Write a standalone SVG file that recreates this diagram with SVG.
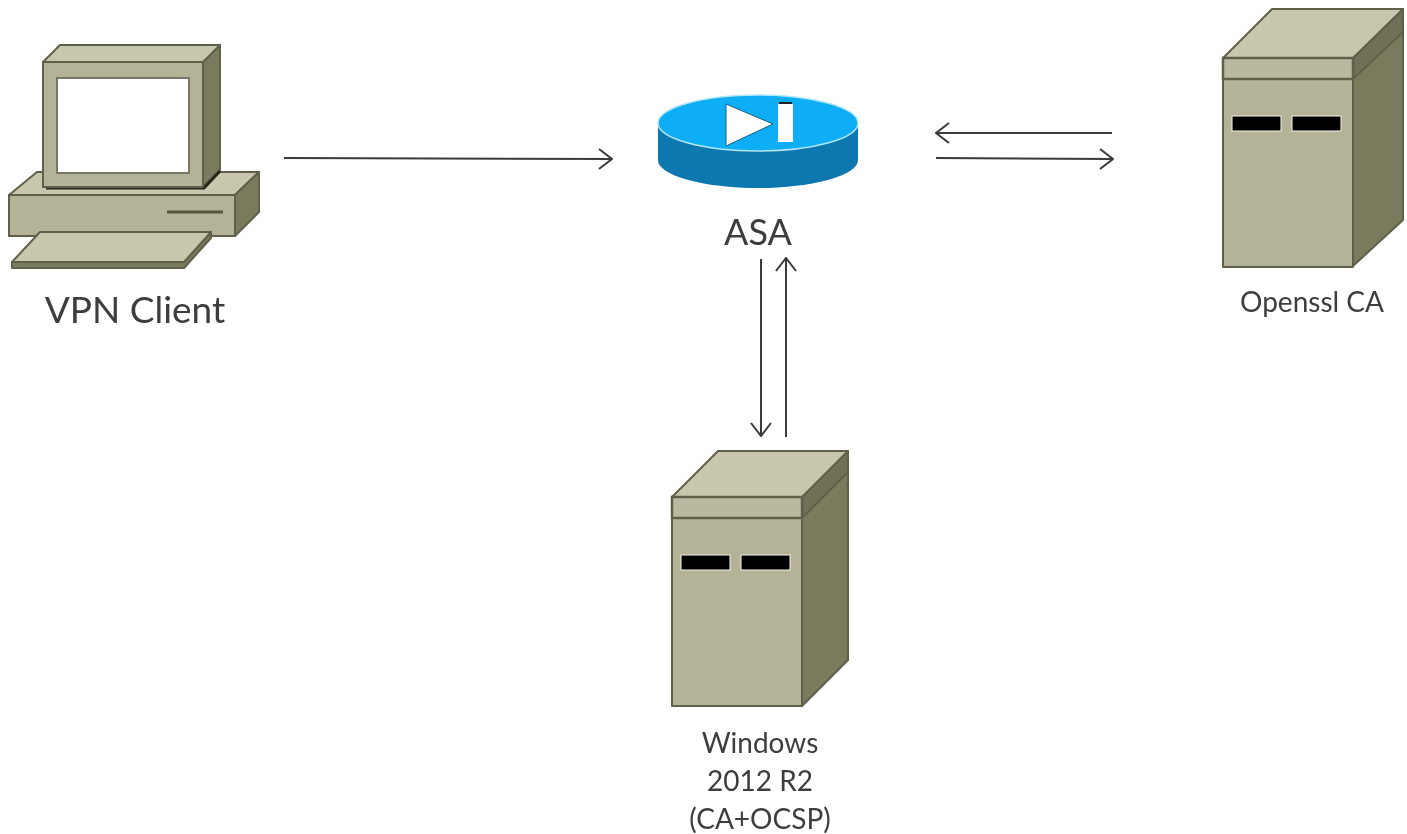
<svg xmlns="http://www.w3.org/2000/svg" width="1407" height="834" viewBox="0 0 1407 834">
<style>
.top{fill:#c8c7ae;stroke:#5f604a;stroke-width:2;stroke-linejoin:round}
.front{fill:#b4b398;stroke:#5f604a;stroke-width:2;stroke-linejoin:round}
.band{fill:#bab9a0;stroke:#5f604a;stroke-width:2.5}
.side{fill:#7a7a5c;stroke:#5f604a;stroke-width:2;stroke-linejoin:round}
.sideband{fill:#6f6f56;stroke:#5f604a;stroke-width:2;stroke-linejoin:round}
.slot{fill:#050505;stroke:#f4f4ec;stroke-width:1}
.lbl{font-family:Lato,"Open Sans",sans-serif;fill:#3c3c40;text-anchor:middle}
.conn{fill:none;stroke:#3a3a3a;stroke-width:2}
.soft{filter:url(#soft)}
</style>
<defs>
<filter id="soft" x="-5%" y="-5%" width="110%" height="110%"><feGaussianBlur stdDeviation="0.6"/></filter>
<marker id="open" viewBox="0 0 16 24" refX="15" refY="12" markerWidth="16" markerHeight="24" markerUnits="userSpaceOnUse" orient="auto">
<path d="M2 2L15 12L2 22" fill="none" stroke="#3a3a3a" stroke-width="2"/>
</marker>
<g id="server-face">
<rect class="front" x="0" y="0" width="130" height="209"/>
<rect class="band" x="0" y="0" width="130" height="21"/>
<rect class="slot" x="9" y="58" width="49" height="15"/>
<rect class="slot" x="69" y="58" width="49" height="15"/>
</g>
</defs>
<rect width="1407" height="834" fill="#ffffff"/>
<g id="connectors" class="soft">
<path class="conn" marker-end="url(#open)" d="M284 158L612 159"/>
<path class="conn" marker-end="url(#open)" d="M1112 133L936 133"/>
<path class="conn" marker-end="url(#open)" d="M936 158L1113 159"/>
<path class="conn" marker-end="url(#open)" d="M761 259V436"/>
<path class="conn" marker-end="url(#open)" d="M786 437V258"/>
</g>
<g id="vpn-client" class="soft">
<path class="top" d="M9 195L37 172H259L235 195Z"/>
<path class="side" d="M235 195L259 172V212L235 236Z"/>
<rect class="front" x="9" y="195" width="226" height="41"/>
<path d="M167 212H223" stroke="#56573f" stroke-width="3"/>
<path class="side" d="M43 187H203L220 170V45L203 62H43Z"/>
<path d="M46 188H204L220 171" fill="none" stroke="#26261a" stroke-width="3"/>
<path class="top" d="M43 62L60 45H220L203 62Z"/>
<rect class="front" x="43" y="62" width="160" height="125"/>
<rect x="57" y="78" width="132" height="95" fill="#ffffff" stroke="#777865" stroke-width="2"/>
<path class="side" d="M12 262H184L211 232V238L184 268H12Z"/>
<path class="top" d="M12 262L40 232H211L184 262Z"/>
<text class="lbl" x="135" y="323" font-size="37">VPN Client</text>
</g>
<g id="asa" class="soft">
<path d="M658 123V160A100 28 0 0 0 858 160V123Z" fill="#0a78b0"/>
<ellipse cx="758" cy="123" rx="100" ry="28" fill="#0aaef5" stroke="#b5e6fa" stroke-width="1.5"/>
<path d="M726 104L773 124L726 146Z" fill="#ffffff" stroke="#1a5f80" stroke-width="1"/>
<rect x="778" y="104" width="15" height="38" fill="#ffffff"/>
<path d="M779 103H792" stroke="#222" stroke-width="2"/>
<text class="lbl" x="758" y="245" font-size="36">ASA</text>
</g>
<g id="openssl-ca" class="soft">
<path class="side" d="M1353 58L1403 9V220L1353 266Z"/>
<path class="sideband" d="M1353 58L1403 9V32L1353 79Z"/>
<path class="top" d="M1223 58L1272 9H1403L1353 58Z"/>
<use href="#server-face" x="1223" y="58"/>
<text class="lbl" x="1312" y="312" font-size="28">Openssl CA</text>
</g>
<g id="windows-ca" class="soft">
<path class="side" d="M802 497L848 451V660L802 706Z"/>
<path class="sideband" d="M802 497L848 451V472L802 518Z"/>
<path class="top" d="M672 497L718 451H848L802 497Z"/>
<use href="#server-face" x="672" y="497"/>
<text class="lbl" x="760" y="753" font-size="28">Windows</text>
<text class="lbl" x="760" y="791" font-size="28">2012 R2</text>
<text class="lbl" x="760" y="829" font-size="28">(CA+OCSP)</text>
</g>
</svg>
